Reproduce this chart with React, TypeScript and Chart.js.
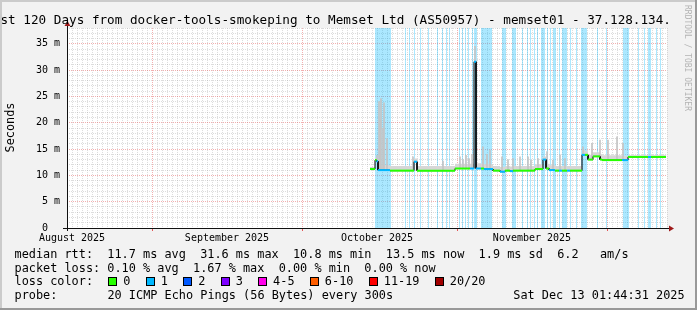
import React, { useEffect, useRef } from 'react';
import { Chart, registerables } from 'chart.js';

Chart.register(...registerables);

const FONT = '"DejaVu Sans Mono", monospace';

// x axis: days since 2025-08-15 (120 day window)
const X_MIN = 0;
const X_MAX = 120;
const Y_MIN = 0;
const Y_MAX = 38; // ms
const monthLabelDays = [1, 32, 62, 93];
const monthLabels = ['August 2025', 'September 2025', 'October 2025', 'November 2025'];
const monthStartDays = [17, 47, 78, 108];

// median RTT, stepped: start day of each step, value (ms), loss class index
const stepDay = [60.6, 61.6, 61.9, 62.2, 64.6, 69.4, 70.0, 77.6, 80.6, 81.4, 81.8, 82.8, 83.4, 85.2, 86.6, 87.6, 88.6, 89.2, 93.6, 95.2, 95.8, 96.4, 97.6, 98.4, 99.0, 100.0, 100.6, 103.0, 103.6, 104.2, 105.2, 106.6, 107.0, 111.0, 112.2, 116.2, 116.8];
const stepEnd = 119.8;
const stepMs = [11.2, 12.9, 12.7, 11.0, 10.9, 12.6, 10.9, 11.3, 11.3, 31.6, 11.3, 11.3, 11.2, 10.9, 10.7, 10.9, 10.8, 10.9, 11.2, 13.0, 11.3, 11.0, 10.9, 10.9, 10.9, 10.9, 10.9, 13.9, 13.9, 13.0, 13.6, 13.0, 12.9, 12.9, 13.5, 13.5, 13.5];
const stepLoss = [0, 0, 1, 1, 0, 1, 0, 0, 1, 1, 1, 0, 1, 0, 1, 0, 1, 0, 0, 1, 0, 1, 0, 1, 0, 1, 0, 1, 0, 0, 0, 0, 0, 1, 0, 1, 0];
// smoke band upper edge per step (ms)
const smokeHi = [11.6, 13.3, 13.1, 11.9, 11.8, 13.2, 11.8, 12.2, 12.2, 32.0, 12.3, 12.2, 12.1, 11.8, 11.6, 11.8, 11.7, 11.8, 12.1, 13.6, 12.2, 11.9, 11.8, 11.8, 11.8, 11.8, 11.8, 14.8, 14.6, 13.9, 14.4, 13.9, 13.8, 13.7, 13.8, 13.8, 13.8];
// smoke spikes (max ping)
const spikeDay = [62.0, 62.4, 62.6, 62.8, 63.2, 63.4, 64.0, 69.2, 75.2, 78.6, 79.2, 79.8, 80.4, 81.0, 81.6, 83.2, 84.0, 84.6, 87.0, 88.2, 89.2, 90.6, 92.2, 92.8, 94.2, 96.0, 97.2, 98.6, 99.6, 103.2, 105.0, 106.6, 108.2, 110.0, 111.2];
const spikeHi = [13.8, 24.0, 20.5, 24.6, 19.0, 23.8, 17.0, 13.5, 12.7, 13.5, 13.0, 13.8, 13.2, 14.0, 34.5, 15.4, 14.0, 14.8, 13.5, 13.0, 13.2, 13.5, 13.5, 12.9, 13.2, 14.5, 12.9, 13.9, 13.2, 15.4, 16.1, 16.7, 16.7, 17.3, 16.1];
// loss background bands (days)
const bandStart = [61.6, 67.6, 68.4, 69.4, 70.6, 72.2, 74.0, 75.0, 75.8, 76.4, 78.4, 79.0, 79.6, 80.2, 81.0, 81.4, 82.8, 87.0, 89.0, 91.0, 92.0, 92.6, 93.4, 94.0, 94.8, 96.0, 96.6, 97.2, 98.4, 99.0, 100.6, 101.8, 102.8, 106.0, 107.8, 111.2, 114.2, 115.4, 116.2, 117.8, 118.6];
const bandEnd = [64.8, 67.8, 68.6, 69.6, 70.8, 72.4, 74.2, 75.2, 76.0, 76.6, 78.6, 79.2, 79.8, 80.4, 81.2, 82.0, 85.0, 87.8, 89.8, 91.2, 92.2, 92.8, 93.6, 94.2, 95.6, 96.2, 96.8, 97.8, 98.6, 100.0, 100.8, 102.0, 104.0, 106.2, 108.0, 112.4, 114.4, 115.6, 116.8, 118.0, 118.8];

const lossLabels = ['0', '1', '2', '3', '4-5', '6-10', '11-19', '20/20'];
const lossColors = ['#26ff00', '#00b8ff', '#0059ff', '#7e00ff', '#ff00ea', '#ff5e00', '#ff0000', '#a10000'];

const medianStats = [11.7, 31.6, 10.8, 13.5];
const medianSd = 1.9;
const medianAmS = 6.2;
const lossStats = [0.10, 1.67, 0.00, 0.00];
const titleText = 'Last 120 Days from docker-tools-smokeping to Memset Ltd (AS50957) - memset01 - 37.128.134.';
const probeText = '20 ICMP Echo Pings (56 Bytes) every 300s';
const dateText = 'Sat Dec 13 01:44:31 2025';

const MINOR = 'rgba(143,143,143,0.3)';
const MAJOR = 'rgba(222,48,48,0.38)';
const BAND = 'rgba(0,184,255,0.33)';
const CW = 7.15; // legend char advance

function stepPoints(vals: number[]) {
  const pts: { x: number; y: number }[] = [];
  for (let i = 0; i < stepDay.length; i++) {
    const end = i + 1 < stepDay.length ? stepDay[i + 1] : stepEnd;
    pts.push({ x: stepDay[i], y: vals[i] }, { x: end, y: vals[i] });
  }
  return pts;
}

function medianAt(d: number) {
  let v = stepMs[0];
  for (let i = 0; i < stepDay.length; i++) if (stepDay[i] <= d) v = stepMs[i];
  return v;
}

const decor = {
  id: 'smokeDecor',
  beforeDraw(chart: any) {
    const { ctx, chartArea: a, width, height } = chart;
    ctx.save();
    ctx.fillStyle = '#f2f2f2';
    ctx.fillRect(0, 0, width, height);
    ctx.fillStyle = '#ffffff';
    ctx.fillRect(a.left, a.top, a.right - a.left, a.bottom - a.top);
    ctx.restore();
  },
  beforeDatasetsDraw(chart: any) {
    const { ctx, chartArea: a } = chart;
    const x = chart.scales.x;
    ctx.save();
    ctx.beginPath();
    ctx.rect(a.left, a.top, a.right - a.left, a.bottom - a.top);
    ctx.clip();
    ctx.fillStyle = BAND;
    bandStart.forEach((s, i) => {
      const x0 = Math.round(x.getPixelForValue(s));
      const x1 = Math.max(x0 + 1, Math.round(x.getPixelForValue(bandEnd[i])));
      ctx.fillRect(x0, a.top, x1 - x0, a.bottom - a.top);
    });
    ctx.restore();
  },
  afterDraw(chart: any) {
    const { ctx, chartArea: a, width, height } = chart;
    ctx.save();
    // axes
    ctx.strokeStyle = '#101010';
    ctx.lineWidth = 1;
    ctx.beginPath();
    ctx.moveTo(a.left + 0.5, a.bottom + 3);
    ctx.lineTo(a.left + 0.5, a.top - 2);
    ctx.stroke();
    ctx.beginPath();
    ctx.moveTo(a.left - 4, a.bottom + 0.5);
    ctx.lineTo(a.right + 2, a.bottom + 0.5);
    ctx.stroke();
    ctx.fillStyle = '#9e1a1a';
    ctx.beginPath();
    ctx.moveTo(a.left - 2.5, a.top - 2);
    ctx.lineTo(a.left + 3.5, a.top - 2);
    ctx.lineTo(a.left + 0.5, a.top - 7);
    ctx.closePath();
    ctx.fill();
    ctx.beginPath();
    ctx.moveTo(a.right + 2, a.bottom - 2.5);
    ctx.lineTo(a.right + 2, a.bottom + 3.5);
    ctx.lineTo(a.right + 7, a.bottom + 0.5);
    ctx.closePath();
    ctx.fill();

    // title
    ctx.fillStyle = '#000';
    ctx.textAlign = 'left';
    ctx.textBaseline = 'alphabetic';
    ctx.font = `12.67px ${FONT}`;
    ctx.fillText(titleText, -14.8, 23.5);

    // y axis title
    ctx.save();
    ctx.font = `11.87px ${FONT}`;
    ctx.translate(11, 127.5);
    ctx.rotate(-Math.PI / 2);
    ctx.textAlign = 'center';
    ctx.textBaseline = 'middle';
    ctx.fillText('Seconds', 0, 0);
    ctx.restore();

    // watermark
    ctx.save();
    ctx.font = `8px ${FONT}`;
    ctx.fillStyle = '#b4b4b4';
    ctx.translate(687.5, 5);
    ctx.rotate(Math.PI / 2);
    ctx.textAlign = 'left';
    ctx.textBaseline = 'middle';
    ctx.fillText('RRDTOOL / TOBI OETIKER', 0, 0);
    ctx.restore();

    // legend
    ctx.font = `11.87px ${FONT}`;
    ctx.fillStyle = '#000';
    const f1 = (v: number) => v.toFixed(1);
    const f2 = (v: number) => v.toFixed(2);
    const line1 = `median rtt:  ${f1(medianStats[0])} ms avg  ${f1(medianStats[1])} ms max  ${f1(medianStats[2])} ms min  ${f1(medianStats[3])} ms now  ${f1(medianSd)} ms sd  ${f1(medianAmS)}   am/s`;
    const line2 = `packet loss: ${f2(lossStats[0])} % avg  ${f2(lossStats[1])} % max  ${f2(lossStats[2])} % min  ${f2(lossStats[3])} % now`;
    const lx = 14.5;
    ctx.fillText(line1, lx, 258.3);
    ctx.fillText(line2, lx, 271.7);
    ctx.fillText('loss color:', lx, 285.3);
    let bx = 108.3;
    lossLabels.forEach((lab, i) => {
      const rx = Math.round(bx);
      ctx.fillStyle = lossColors[i];
      ctx.fillRect(rx, 277, 8, 8);
      ctx.strokeStyle = '#000';
      ctx.lineWidth = 1;
      ctx.strokeRect(rx + 0.5, 277.5, 8, 8);
      ctx.fillStyle = '#000';
      ctx.fillText(lab, bx + 15, 285.3);
      bx += 15 + lab.length * CW + 15.3;
    });
    ctx.fillText('probe:', lx, 299);
    ctx.fillText(probeText, lx + 13 * CW, 299);
    ctx.textAlign = 'right';
    ctx.fillText(dateText, 684.6, 299);

    // frame
    ctx.fillStyle = '#cbcbcb';
    ctx.fillRect(0, 0, width, 2);
    ctx.fillRect(0, 0, 2, height);
    ctx.fillStyle = '#999999';
    ctx.fillRect(0, height - 2, width, 2);
    ctx.fillRect(width - 2, 0, 2, height);
    ctx.restore();
  },
};

export default function App() {
  const ref = useRef<HTMLCanvasElement>(null);
  useEffect(() => {
    const medianPts = stepPoints(stepMs);
    const smokePts = stepPoints(smokeHi);
    const spikes = spikeDay.map((d, i) => ({ x: d, y: [medianAt(d), spikeHi[i]] }));
    const chart = new Chart(ref.current as HTMLCanvasElement, {
      type: 'line',
      data: {
        datasets: [
          {
            label: 'median-black',
            data: medianPts,
            borderColor: '#000000',
            borderWidth: 1,
            pointRadius: 0,
            tension: 0,
            order: 2,
          } as any,
          {
            label: 'median',
            data: medianPts,
            borderColor: lossColors[0],
            borderWidth: 2,
            pointRadius: 0,
            tension: 0,
            order: 1,
            segment: {
              borderColor: (c: any) =>
                c.p0DataIndex % 2 === 0 ? lossColors[stepLoss[c.p0DataIndex >> 1]] : 'rgba(0,0,0,0)',
            },
          } as any,
          {
            label: 'smoke',
            data: smokePts,
            borderWidth: 0,
            borderColor: 'rgba(0,0,0,0)',
            backgroundColor: '#d6d6d6',
            pointRadius: 0,
            fill: 0,
            order: 4,
          } as any,
          {
            type: 'bar',
            label: 'spikes',
            data: spikes,
            backgroundColor: '#c4c4c4',
            borderWidth: 0,
            barThickness: 1,
            grouped: false,
            order: 3,
          } as any,
        ],
      },
      options: {
        responsive: false,
        animation: false,
        devicePixelRatio: 1,
        events: [],
        layout: { padding: { left: 0, right: 30, top: 28, bottom: 0 } },
        plugins: { legend: { display: false }, tooltip: { enabled: false }, title: { display: false } },
        scales: {
          x: {
            type: 'linear',
            min: X_MIN,
            max: X_MAX,
            offset: false,
            afterBuildTicks: (s: any) => {
              s.ticks = Array.from({ length: X_MAX - X_MIN + 1 }, (_, i) => ({ value: X_MIN + i }));
            },
            afterFit: (s: any) => {
              s.height = 82;
            },
            ticks: {
              autoSkip: false,
              maxRotation: 0,
              minRotation: 0,
              padding: 1,
              color: '#000',
              font: { family: FONT, size: 10 },
              callback: (v: any) => {
                const k = monthLabelDays.indexOf(Number(v));
                return k >= 0 ? monthLabels[k] : '';
              },
            },
            grid: {
              offset: false,
              lineWidth: 1,
              color: (c: any) => (c.tick && monthStartDays.includes(c.tick.value) ? MAJOR : MINOR),
              drawTicks: true,
              tickLength: 3,
              tickColor: (c: any) => (c.tick && monthStartDays.includes(c.tick.value) ? 'rgba(222,48,48,0.8)' : 'rgba(0,0,0,0)'),
              tickBorderDash: [],
            },
            border: { display: false, dash: [1, 1] },
          },
          y: {
            type: 'linear',
            min: Y_MIN,
            max: Y_MAX,
            afterBuildTicks: (s: any) => {
              s.ticks = Array.from({ length: Y_MAX - Y_MIN + 1 }, (_, i) => ({ value: Y_MIN + i }));
            },
            afterFit: (s: any) => {
              s.width = 67;
            },
            ticks: {
              autoSkip: false,
              padding: 4,
              color: '#000',
              font: { family: FONT, size: 10 },
              callback: (v: any) => {
                const n = Number(v);
                if (n % 5 !== 0) return '';
                return n === 0 ? '0  ' : `${n} m`;
              },
            },
            grid: {
              lineWidth: 1,
              color: (c: any) => (c.tick && c.tick.value % 5 === 0 && c.tick.value !== 0 ? MAJOR : MINOR),
              drawTicks: true,
              tickLength: 3,
              tickColor: 'rgba(0,0,0,0)',
            },
            border: { display: false, dash: [1, 1] },
          },
        },
      } as any,
      plugins: [decor],
    });
    return () => chart.destroy();
  }, []);
  return (
    <div style={{ position: 'absolute', left: 0, top: 0, width: 697, height: 310 }}>
      <canvas ref={ref} width={697} height={310} style={{ display: 'block', width: 697, height: 310 }} />
    </div>
  );
}
